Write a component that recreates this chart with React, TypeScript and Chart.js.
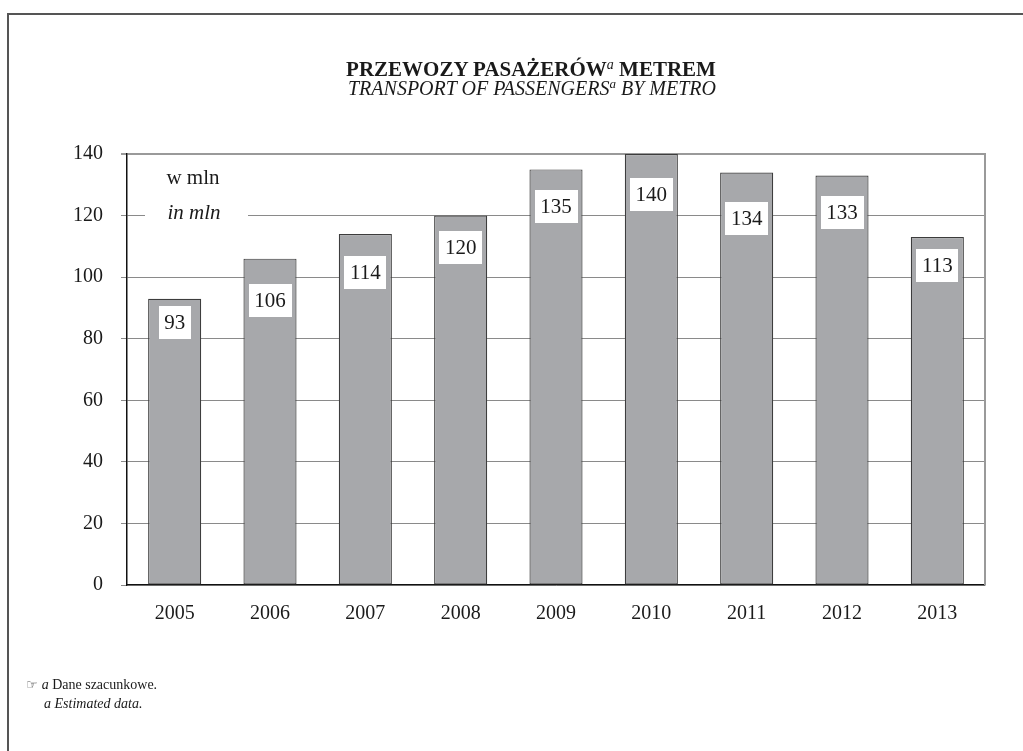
import React, { useEffect, useRef } from "react";
import { Chart, registerables } from "chart.js";

Chart.register(...registerables);

const years = ["2005", "2006", "2007", "2008", "2009", "2010", "2011", "2012", "2013"];
const passengers = [93, 106, 114, 120, 135, 140, 134, 133, 113];
const yTicks = [0, 20, 40, 60, 80, 100, 120, 140];
// vertical drop (px) of each value box below its bar top, as in the reference
const labelDrops = [24, 42, 38, 32, 37, 40, 46, 37, 28];

const SERIF = '"Liberation Serif", "Times New Roman", serif';

const decorPlugin = {
  id: "decor",
  beforeDatasetsDraw(chart: any) {
    const { ctx, chartArea } = chart;
    ctx.save();
    ctx.strokeStyle = "#9a9a9a";
    ctx.lineWidth = 2;
    ctx.beginPath();
    ctx.moveTo(chartArea.right, chartArea.top - 1);
    ctx.lineTo(chartArea.right, chartArea.bottom);
    ctx.stroke();
    // unit note
    const y = chart.scales.y;
    const y120 = y.getPixelForValue(120);
    const left = chartArea.left;
    ctx.fillStyle = "#fff";
    ctx.fillRect(left + 18, y120 - 12, 103, 24);
    ctx.fillStyle = "#1a1a1a";
    ctx.textAlign = "center";
    ctx.textBaseline = "middle";
    ctx.font = `21px ${SERIF}`;
    ctx.fillText("w mln", left + 66, y120 - 37);
    ctx.font = `italic 21px ${SERIF}`;
    ctx.fillText("in mln", left + 67, y120 - 2);
    ctx.restore();
  },
  afterDatasetsDraw(chart: any) {
    const { ctx } = chart;
    const meta = chart.getDatasetMeta(0);
    ctx.save();
    ctx.font = `21px ${SERIF}`;
    ctx.textAlign = "center";
    ctx.textBaseline = "middle";
    meta.data.forEach((bar: any, i: number) => {
      const txt = String(passengers[i]);
      const cy = bar.y + labelDrops[i];
      const w = ctx.measureText(txt).width + 11;
      ctx.fillStyle = "#fff";
      ctx.fillRect(Math.round(bar.x - w / 2), Math.round(cy - 16.5), Math.round(w), 33);
      ctx.fillStyle = "#1a1a1a";
      ctx.fillText(txt, bar.x, cy + 1);
    });
    ctx.restore();
  },
};

export default function App() {
  const ref = useRef<HTMLCanvasElement | null>(null);

  useEffect(() => {
    if (!ref.current) return;
    const chart = new Chart(ref.current, {
      type: "bar",
      data: {
        labels: years,
        datasets: [
          {
            data: passengers,
            backgroundColor: "#a7a8ab",
            borderColor: "#3c3c3c",
            borderWidth: 1.2,
            borderSkipped: false,
            barPercentage: 0.557,
            categoryPercentage: 1,
          },
        ],
      },
      options: {
        responsive: false,
        animation: false,
        devicePixelRatio: 1,
        layout: { padding: { top: 154, right: 38, bottom: 0, left: 0 } },
        plugins: {
          legend: { display: false },
          title: { display: false },
          tooltip: { enabled: false },
        },
        scales: {
          x: {
            grid: { display: false, drawTicks: false },
            border: { color: "#111", width: 1.2 },
            ticks: {
              color: "#1a1a1a",
              font: { family: SERIF, size: 20 },
              padding: 17,
              maxRotation: 0,
            },
            afterFit: (s: any) => {
              s.height = 166;
            },
          },
          y: {
            min: 0,
            max: 140,
            afterBuildTicks: (s: any) => {
              s.ticks = yTicks.map((v) => ({ value: v }));
            },
            grid: {
              color: (c: any) => (c.tick && c.tick.value === 140 ? "#9a9a9a" : "#8a8a8a"),
              lineWidth: (c: any) => (c.tick && c.tick.value === 140 ? 2 : 1),
              tickLength: 6,
            },
            border: { color: "#111", width: 1.5 },
            ticks: {
              color: "#1a1a1a",
              font: { family: SERIF, size: 20 },
              padding: 18,
            },
            afterFit: (s: any) => {
              s.width = 127;
            },
          },
        },
      },
      plugins: [decorPlugin],
    });
    return () => chart.destroy();
  }, []);

  return (
    <div
      style={{
        position: "absolute",
        left: 0,
        top: 0,
        width: 1023,
        height: 751,
        overflow: "hidden",
        background: "#fff",
        fontFamily: SERIF,
        color: "#1a1a1a",
      }}
    >
      <div
        style={{
          position: "absolute",
          left: 7,
          top: 13,
          width: 1100,
          height: 900,
          borderTop: "2px solid #555",
          borderLeft: "2px solid #555",
        }}
      />
      <canvas
        ref={ref}
        width={1023}
        height={751}
        style={{ position: "absolute", left: 0, top: 0, width: 1023, height: 751 }}
      />
      <div
        style={{
          position: "absolute",
          left: 0,
          width: 1062,
          top: 57,
          textAlign: "center",
          fontWeight: "bold",
          fontSize: 21,
          lineHeight: "24px",
        }}
      >
        PRZEWOZY PASAŻERÓW
        <i style={{ fontWeight: "normal", fontSize: 14, verticalAlign: 7, lineHeight: 0 }}>a</i> METREM
      </div>
      <div
        style={{
          position: "absolute",
          left: 0,
          width: 1064,
          top: 76,
          textAlign: "center",
          fontStyle: "italic",
          fontSize: 20,
          lineHeight: "24px",
        }}
      >
        TRANSPORT OF PASSENGERS
        <span style={{ fontSize: 13, verticalAlign: 7, lineHeight: 0 }}>a</span> BY METRO
      </div>
      <div
        style={{
          position: "absolute",
          left: 26,
          top: 675,
          fontSize: 14,
          lineHeight: "19px",
        }}
      >
        <span style={{ fontFamily: '"DejaVu Sans", sans-serif', fontSize: 13, color: "#555", marginRight: 4 }}>☞</span>
        <i>a</i> Dane szacunkowe.
      </div>
      <div
        style={{
          position: "absolute",
          left: 44,
          top: 694,
          fontSize: 14,
          lineHeight: "19px",
          fontStyle: "italic",
        }}
      >
        a Estimated data.
      </div>
    </div>
  );
}
